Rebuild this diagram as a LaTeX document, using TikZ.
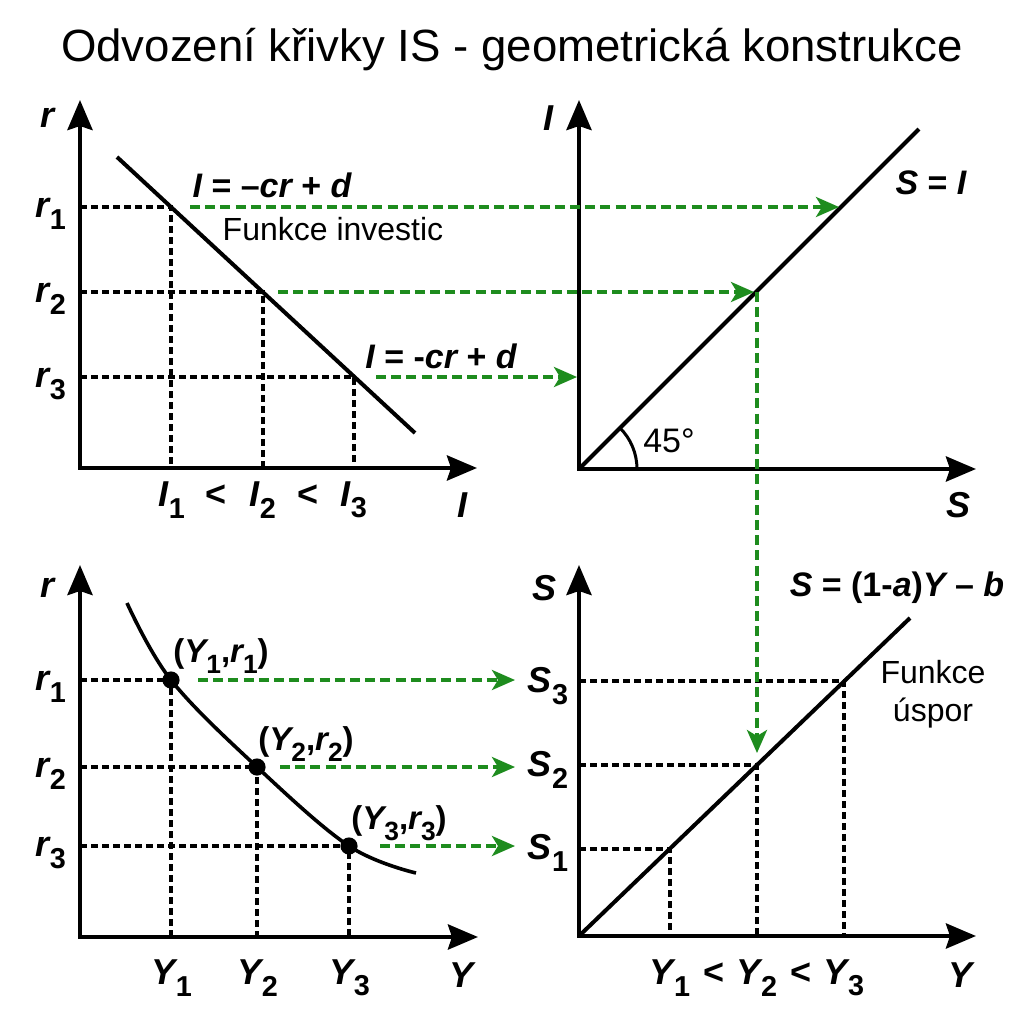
\documentclass[tikz,border=0pt]{standalone}
\usepackage{fontspec}
\setmainfont{Liberation Sans}
\usetikzlibrary{arrows.meta}
\definecolor{igreen}{RGB}{30,140,30}
\newcommand\mysub[1]{\raisebox{-0.32em}{\upshape\scalebox{0.8}{#1}}}
\begin{document}
\begin{tikzpicture}[x=0.5pt,y=-0.5pt,
  axis/.style={line width=2.2pt,line join=miter,{Stealth[length=15pt,width=12.5pt,inset=2pt]}-{Stealth[length=15pt,width=12.5pt,inset=2pt]}},
  curve/.style={line width=2pt},
  guide/.style={line width=1.75pt,dash pattern=on 3.6pt off 1.9pt},
  flow/.style={line width=1.8pt,draw=igreen,dash pattern=on 5pt off 2.6pt,-{Stealth[length=11.5pt,width=10pt,inset=3pt]}},
  lbl/.style={inner sep=0pt,font=\fontsize{18}{20}\selectfont\bfseries\itshape},
  eq/.style={inner sep=0pt,font=\fontsize{17}{20}\selectfont\bfseries\itshape},
  pts/.style={inner sep=0pt,font=\fontsize{16.5}{19}\selectfont\bfseries\itshape},
  plain/.style={inner sep=0pt,font=\fontsize{16}{19}\selectfont,align=center},
  dot/.style={fill=black}]
\useasboundingbox (0,0) rectangle (1024,1024);
\fill[white] (0,0) rectangle (1024,1024);

% title
\node[inner sep=0pt,font=\fontsize{21.5}{24}\selectfont] (title) at (512,50) {\scalebox{1.06}[1.05]{Odvození křivky IS - geometrická konstrukce}};

% ---------- top left ----------
\coordinate (Oa) at (80,468);
\coordinate (Oay) at (80,100);
\coordinate (Oax) at (477,468);
\coordinate (La) at (117,157);
\coordinate (Lb) at (415,433);
\coordinate (P1) at (171,207);
\coordinate (P2) at (263,292);
\coordinate (P3) at (354,377);
\coordinate (ra1) at (80,207);
\coordinate (ra2) at (80,292);
\coordinate (ra3) at (80,377);
\coordinate (Ia1) at (171,468);
\coordinate (Ia2) at (263,468);
\coordinate (Ia3) at (354,468);
\draw[guide] (ra1) -- (P1) -- (Ia1);
\draw[guide] (ra2) -- (P2) -- (Ia2);
\draw[guide] (ra3) -- (P3) -- (Ia3);
\draw[curve] (La) -- (Lb);
\draw[axis] (Oay) -- (Oa) -- (Oax);
\node[lbl] (tlr) at (48,118) {r};
\node[lbl] (tlr1) at (51,214) {r\mysub{1}};
\node[lbl] (tlr2) at (51,299) {r\mysub{2}};
\node[lbl] (tlr3) at (51,384) {r\mysub{3}};
\node[lbl] (tlI1) at (172,500) {I\mysub{1}};
\node[lbl] (tllt1) at (216,496) {\upshape <};
\node[lbl] (tlI2) at (263,500) {I\mysub{2}};
\node[lbl] (tllt2) at (308,496) {\upshape <};
\node[lbl] (tlI3) at (354,500) {I\mysub{3}};
\node[lbl] (tlI) at (462,505) {I};
\node[eq] (eqI1) at (272,185) {I {\upshape = –}cr {\upshape +} d};
\node[plain] (fi) at (333,229) {Funkce investic};
\node[eq] (eqI2) at (441,356) {I {\upshape = -}cr {\upshape +} d};

% ---------- top right ----------
\coordinate (Ob) at (579,469);
\coordinate (Oby) at (579,100);
\coordinate (Obx) at (976,469);
\coordinate (Lc) at (919,129);
\coordinate (Arc0) at (637,469);
\draw[curve] (Ob) -- (Lc);
\draw[line width=1.5pt] (Arc0) arc[start angle=0,end angle=45,radius=29pt];
\draw[axis] (Oby) -- (Ob) -- (Obx);
\node[lbl] (trI) at (548,118) {I};
\node[lbl] (trS) at (958,505) {S};
\node[eq] (eqSI) at (931,183) {S {\upshape =} I};
\node[plain,font=\fontsize{17}{19}\selectfont] (ang) at (669,441) {45°};

% ---------- bottom left ----------
\coordinate (Oc) at (80,937);
\coordinate (Ocy) at (80,565);
\coordinate (Ocx) at (478,937);
\coordinate (C0) at (127,603);
\coordinate (D1) at (171,680);
\coordinate (D2) at (257,767);
\coordinate (D3) at (349,846);
\coordinate (C4) at (416,873);
\coordinate (rc1) at (80,680);
\coordinate (rc2) at (80,767);
\coordinate (rc3) at (80,846);
\coordinate (Yc1) at (171,937);
\coordinate (Yc2) at (257,937);
\coordinate (Yc3) at (349,937);
\draw[guide] (rc1) -- (D1) -- (Yc1);
\draw[guide] (rc2) -- (D2) -- (Yc2);
\draw[guide] (rc3) -- (D3) -- (Yc3);
\draw[curve,line width=1.8pt] plot[smooth,tension=0.6] coordinates {(C0) (D1) (D2) (D3) (C4)};
\fill[dot] (D1) circle[radius=4.3pt];
\fill[dot] (D2) circle[radius=4.3pt];
\fill[dot] (D3) circle[radius=4.3pt];
\draw[axis] (Ocy) -- (Oc) -- (Ocx);
\node[lbl] (blr) at (48,588) {r};
\node[lbl] (blr1) at (51,687) {r\mysub{1}};
\node[lbl] (blr2) at (51,774) {r\mysub{2}};
\node[lbl] (blr3) at (51,853) {r\mysub{3}};
\node[lbl] (blY1) at (172,978) {Y\mysub{1}};
\node[lbl] (blY2) at (258,978) {Y\mysub{2}};
\node[lbl] (blY3) at (350,978) {Y\mysub{3}};
\node[lbl] (blY) at (462,975) {Y};
\node[pts] (pt1) at (221,656) {{\upshape (}Y\mysub{1}{\upshape ,}r\mysub{1}{\upshape )}};
\node[pts] (pt2) at (306,744) {{\upshape (}Y\mysub{2}{\upshape ,}r\mysub{2}{\upshape )}};
\node[pts] (pt3) at (399,823) {{\upshape (}Y\mysub{3}{\upshape ,}r\mysub{3}{\upshape )}};

% ---------- bottom right ----------
\coordinate (Od) at (579,936);
\coordinate (Ody) at (579,565);
\coordinate (Odx) at (976,936);
\coordinate (Le) at (910,618);
\coordinate (Q1) at (670,849);
\coordinate (Q2) at (757,765);
\coordinate (Q3) at (844,681);
\coordinate (sd1) at (579,849);
\coordinate (sd2) at (579,765);
\coordinate (sd3) at (579,681);
\coordinate (Yd1) at (670,936);
\coordinate (Yd2) at (757,936);
\coordinate (Yd3) at (844,936);
\draw[guide] (sd1) -- (Q1) -- (Yd1);
\draw[guide] (sd2) -- (Q2) -- (Yd2);
\draw[guide] (sd3) -- (Q3) -- (Yd3);
\draw[curve] (Od) -- (Le);
\draw[axis] (Ody) -- (Od) -- (Odx);
\node[lbl] (brS) at (545,588) {S};
\node[lbl] (brS3) at (548,686) {S\mysub{3}};
\node[lbl] (brS2) at (548,770) {S\mysub{2}};
\node[lbl] (brS1) at (548,853) {S\mysub{1}};
\node[eq] (eqS) at (897,588) {S {\upshape = (1-}a{\upshape )}Y {\upshape –} b};
\node[plain] (fu) at (933,694) {Funkce\\úspor};
\node[lbl] (brY1) at (670,978) {Y\mysub{1}};
\node[lbl] (brlt1) at (714,974) {\upshape <};
\node[lbl] (brY2) at (757,978) {Y\mysub{2}};
\node[lbl] (brlt2) at (801,974) {\upshape <};
\node[lbl] (brY3) at (844,978) {Y\mysub{3}};
\node[lbl] (brY) at (960,975) {Y};

% ---------- green connectors ----------
\coordinate (g1s) at (190,207);
\coordinate (g1e) at (839,207);
\coordinate (g2s) at (278,292);
\coordinate (g2e) at (754,292);
\coordinate (g3s) at (376,377);
\coordinate (g3e) at (577,377);
\coordinate (vs) at (757,292);
\coordinate (ve) at (757,753);
\coordinate (h1s) at (198,680);
\coordinate (h1e) at (515,680);
\coordinate (h2s) at (280,767);
\coordinate (h2e) at (515,767);
\coordinate (h3s) at (380,846);
\coordinate (h3e) at (515,846);
\draw[flow] (g1s) -- (g1e);
\draw[flow] (g2s) -- (g2e);
\draw[flow] (g3s) -- (g3e);
\draw[flow] (vs) -- (ve);
\draw[flow] (h1s) -- (h1e);
\draw[flow] (h2s) -- (h2e);
\draw[flow] (h3s) -- (h3e);
\end{tikzpicture}
\end{document}
